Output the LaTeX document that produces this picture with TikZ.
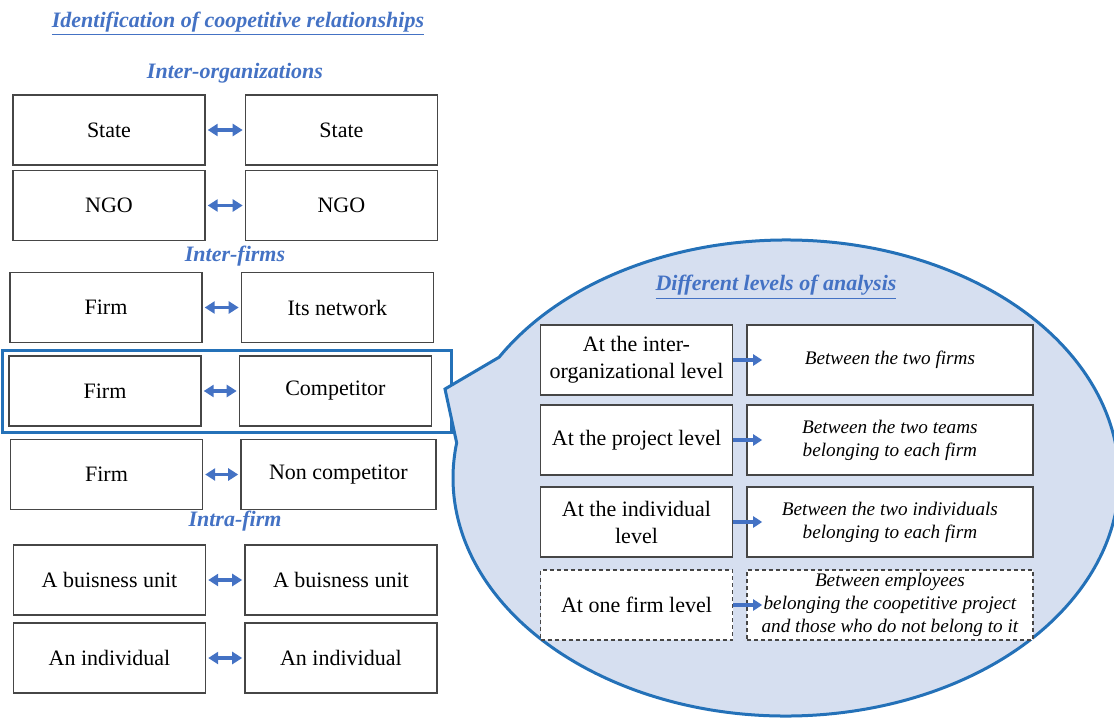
\documentclass[tikz,border=0pt]{standalone}
\usepackage{fontspec}
\setmainfont{Liberation Serif}
\usetikzlibrary{positioning,arrows.meta,shapes}
\definecolor{headblue}{RGB}{68,114,196}
\definecolor{frameblue}{RGB}{36,113,184}
\definecolor{calloutfill}{RGB}{214,223,240}
\definecolor{boxgray}{RGB}{70,70,70}

\begin{document}
\begin{tikzpicture}[x=0.5pt,y=-0.5pt,
    every node/.style={font=\fontsize{11}{13.5}\selectfont, align=center, inner sep=1pt},
    heading/.style={font=\fontsize{11}{13.5}\selectfont\bfseries\itshape, text=headblue},
    pairbox/.style={draw=boxgray, line width=0.7pt, rectangle, fill=white,
      minimum width=96pt, minimum height=35pt},
    levelbox/.style={pairbox},
    descbox/.style={pairbox, minimum width=143pt,
      font=\fontsize{9.6}{11.4}\selectfont\itshape},
    link/.style={line width=1.7pt, headblue, shorten <=1pt, shorten >=1pt,
      {Triangle[length=5pt,width=6pt]}-{Triangle[length=5pt,width=6pt]}},
    leads/.style={line width=1.6pt, headblue, -{Triangle[length=4.5pt,width=5.5pt]}},
    callout/.style={draw=frameblue, line width=1.5pt, fill=calloutfill}]

  \useasboundingbox (0,0) rectangle (1114,718);
  \clip (0,0) rectangle (1114,718);

  % highlighted pair
  \draw[frameblue, line width=1.5pt] (2,350) rectangle (451,432);

  % callout with its tail
  \filldraw[callout] ([shift={(786,478)}]-149.5:333 and 238)
    arc[start angle=-149.5, end angle=188.5, x radius=333, y radius=238]
    -- (445,389) -- cycle;

  % headings
  \node[heading] (title) at (238,24) {\underline{Identification of coopetitive relationships}};
  \node[heading] (hOrg) at (235,73) {Inter-organizations};
  \node[heading] (hFirms) at (235,256) {Inter-firms};
  \node[heading] (hIntra) at (235,521) {Intra-firm};
  \node[heading] (hLevels) at (776,287) {\underline{Different levels of analysis}};

  % pairs
  \node[pairbox] (state1) at (109,130) {State};
  \node[pairbox, right=19.5pt of state1] (state2) {State};
  \node[pairbox] (ngo1) at (109,205.5) {NGO};
  \node[pairbox, right=19.5pt of ngo1] (ngo2) {NGO};
  \node[pairbox] (firm1) at (106,307.5) {Firm};
  \node[pairbox, right=19pt of firm1] (net) {Its network};
  \node[pairbox] (firm2) at (105,391) {Firm};
  \node[pairbox, right=18.5pt of firm2] (comp) {Competitor};
  \node[pairbox] (firm3) at (106.5,474.5) {Firm};
  \node[pairbox, right=18.5pt of firm3, minimum width=97.5pt] (noncomp) {Non competitor};
  \node[pairbox] (unit1) at (109.5,580) {A buisness unit};
  \node[pairbox, right=19pt of unit1] (unit2) {A buisness unit};
  \node[pairbox] (indiv1) at (109.5,658) {An individual};
  \node[pairbox, right=19pt of indiv1] (indiv2) {An individual};

  \foreach \a/\b in {state1/state2, ngo1/ngo2, firm1/net, firm2/comp,
      firm3/noncomp, unit1/unit2, indiv1/indiv2}
    \draw[link] (\a.east) -- (\b.west);

  % levels of analysis
  \node[levelbox] (lvInter) at (636.5,360) {At the inter-\\organizational level};
  \node[descbox, right=6.5pt of lvInter] (dsInter) {Between the two firms};
  \node[levelbox] (lvProject) at (636.5,440) {At the project level};
  \node[descbox, right=6.5pt of lvProject] (dsProject) {Between the two teams\\belonging to each firm};
  \node[levelbox] (lvIndiv) at (636.5,522) {At the individual\\level};
  \node[descbox, right=6.5pt of lvIndiv] (dsIndiv) {Between the two individuals\\belonging to each firm};
  \node[levelbox, dashed, dash pattern=on 2pt off 1.5pt] (lvOne) at (636.5,605) {At one firm level};
  \node[descbox, dashed, dash pattern=on 2pt off 1.5pt, right=6.5pt of lvOne] (dsOne)
    {Between employees\\belonging the coopetitive project\\and those who do not belong to it};

  \foreach \a/\b in {lvInter/dsInter, lvProject/dsProject, lvIndiv/dsIndiv, lvOne/dsOne}
    \draw[leads] (\a.east) -- ([xshift=8pt]\b.west);
\end{tikzpicture}
\end{document}
